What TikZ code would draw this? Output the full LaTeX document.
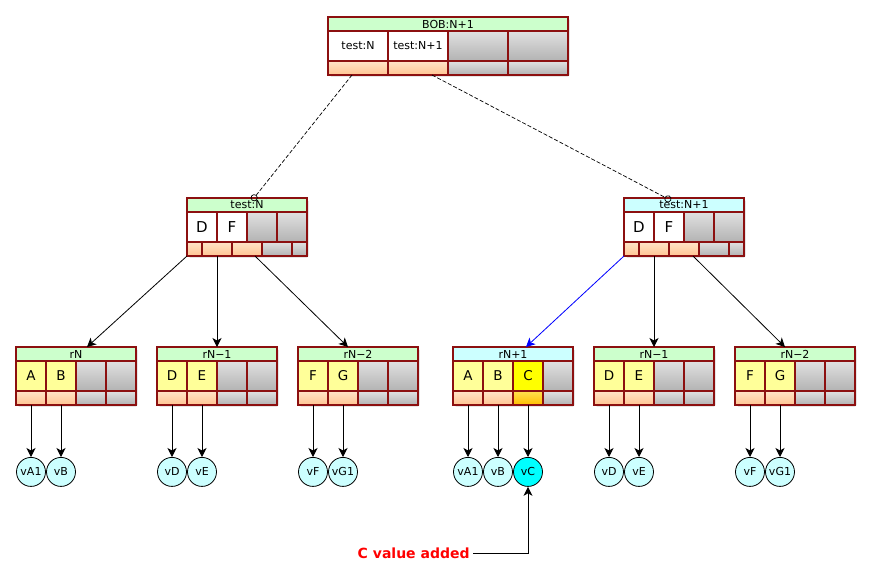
\documentclass[tikz,border=0pt]{standalone}
\usepackage{fontspec}
\setmainfont{DejaVu Sans}
\usetikzlibrary{arrows.meta,positioning,calc,shadows}

\definecolor{recred}{RGB}{140,16,16}
\definecolor{hdrgreen}{RGB}{204,255,204}
\definecolor{hdrcyan}{RGB}{204,255,255}
\definecolor{keyyellow}{RGB}{255,255,153}
\definecolor{newyellow}{RGB}{255,255,0}
\definecolor{ptrlight}{RGB}{255,228,200}
\definecolor{ptrorange}{RGB}{255,196,145}
\definecolor{newptrlight}{RGB}{255,225,80}
\definecolor{newptrdark}{RGB}{255,190,0}
\definecolor{valcyan}{RGB}{204,255,255}
\definecolor{newcyan}{RGB}{0,255,255}

\tikzset{
  reccell/.style={rectangle, draw=recred, line width=1.2pt, inner sep=0pt, outer sep=0pt, anchor=north west},
  recframe/.style={reccell, line width=1.6pt, rounded corners=1.5pt, fill=white, minimum height=58pt,
                   drop shadow={shadow xshift=1.5pt, shadow yshift=-1.5pt, opacity=0.3}},
  hdr/.style={reccell, minimum height=14pt, fill=hdrgreen, font=\fontsize{11}{11}\selectfont},
  hdrnew/.style={hdr, fill=hdrcyan},
  keybox/.style={reccell, minimum height=30pt},
  topkey/.style={keybox, fill=white, font=\fontsize{11}{11}\selectfont},
  wkey/.style={keybox, fill=white, font=\fontsize{15}{15}\selectfont},
  keycell/.style={keybox, fill=keyyellow, font=\fontsize{13.5}{13.5}\selectfont},
  newkey/.style={keycell, fill=newyellow},
  emptycell/.style={keybox, top color=black!12, bottom color=black!30},
  ptrcell/.style={reccell, minimum height=14pt, top color=ptrlight, bottom color=ptrorange},
  newptr/.style={ptrcell, top color=newptrlight, bottom color=newptrdark},
  nullcell/.style={reccell, minimum height=14pt, top color=black!12, bottom color=black!30},
  valnode/.style={circle, draw=black, line width=0.8pt, fill=valcyan, minimum size=29pt, inner sep=0pt,
                  font=\fontsize{11}{11}\selectfont},
  newval/.style={valnode, fill=newcyan},
  ptr/.style={-{Stealth[length=9pt, width=9pt, inset=2.5pt]}, line width=0.8pt},
  link/.style={dash pattern=on 4pt off 2pt, line width=0.7pt, -{Circle[open, length=7pt, width=7pt]}},
  note/.style={text=red, inner sep=3pt, font=\fontsize{14}{14}\selectfont\bfseries}
}

% record: name, corner, cell width, header style, header text, key cells, pointer cells
\newcommand{\record}[7]{%
  \begin{scope}[shift={#2}]
    \node[recframe, minimum width=4*#3pt] (#1) at (0,0) {};
    \node[#4, minimum width=4*#3pt] (#1-h) at (0,0) {#5};
    \foreach \txt/\sty [count=\n from 0] in {#6}
      \node[\sty, minimum width=#3pt] (#1-k\n) at (\n*#3,14) {\txt};
    \foreach \x/\cw/\sty [count=\n] in {#7}
      \node[\sty, minimum width=\cw*1pt] (#1-p\n) at (\x,44) {};
  \end{scope}}

\begin{document}
\begin{tikzpicture}[x=1pt, y=-1pt, line width=0.8pt, black]
    \useasboundingbox (0,0) rectangle (871,584);

    %Nodes
    \record{bob}{(328,17)}{60}{hdr}{BOB:N+1}
      {test:N/topkey, test:N+1/topkey, /emptycell, /emptycell}
      {0/60/ptrcell, 60/60/ptrcell, 120/60/nullcell, 180/60/nullcell}

    \record{tN}{(187,198)}{30}{hdr}{test:N}
      {D/wkey, F/wkey, /emptycell, /emptycell}
      {0/15/ptrcell, 15/30/ptrcell, 45/30/ptrcell, 75/30/nullcell, 105/15/nullcell}
    \record{tNp}{(624,198)}{30}{hdrnew}{test:N+1}
      {D/wkey, F/wkey, /emptycell, /emptycell}
      {0/15/ptrcell, 15/30/ptrcell, 45/30/ptrcell, 75/30/nullcell, 105/15/nullcell}

    \record{rN}{(16,347)}{30}{hdr}{rN}
      {A/keycell, B/keycell, /emptycell, /emptycell}
      {0/30/ptrcell, 30/30/ptrcell, 60/30/nullcell, 90/30/nullcell}
    \record{rNm1}{(157,347)}{30}{hdr}{rN−1}
      {D/keycell, E/keycell, /emptycell, /emptycell}
      {0/30/ptrcell, 30/30/ptrcell, 60/30/nullcell, 90/30/nullcell}
    \record{rNm2}{(298,347)}{30}{hdr}{rN−2}
      {F/keycell, G/keycell, /emptycell, /emptycell}
      {0/30/ptrcell, 30/30/ptrcell, 60/30/nullcell, 90/30/nullcell}
    \record{rNp1}{(453,347)}{30}{hdrnew}{rN+1}
      {A/keycell, B/keycell, C/newkey, /emptycell}
      {0/30/ptrcell, 30/30/ptrcell, 60/30/newptr, 90/30/nullcell}
    \record{rNm1b}{(594,347)}{30}{hdr}{rN−1}
      {D/keycell, E/keycell, /emptycell, /emptycell}
      {0/30/ptrcell, 30/30/ptrcell, 60/30/nullcell, 90/30/nullcell}
    \record{rNm2b}{(735,347)}{30}{hdr}{rN−2}
      {F/keycell, G/keycell, /emptycell, /emptycell}
      {0/30/ptrcell, 30/30/ptrcell, 60/30/nullcell, 90/30/nullcell}

    % Values
    \foreach \r/\a/\b in {rN/vA1/vB, rNm1/vD/vE, rNm2/vF/vG1, rNp1/vA1/vB, rNm1b/vD/vE, rNm2b/vF/vG1} {
      \node[valnode, below=52pt of \r-p1] (\r-\a) {\a};
      \node[valnode, below=52pt of \r-p2] (\r-\b) {\b};
      \draw[ptr] (\r-p1.south) -- (\r-\a);
      \draw[ptr] (\r-p2.south) -- (\r-\b);
    }
    \node[newval, below=52pt of rNp1-p3] (rNp1-vC) {vC};
    \draw[ptr] (rNp1-p3.south) -- (rNp1-vC);

    \node[note, anchor=east] (note) at (473,553) {C value added};

    %Lines
    \draw[link] ($(bob.south west)+(24,0)$)  -- ($(tN.north west)+(65,2.5)$);
    \draw[link] ($(bob.south west)+(104,0)$) -- ($(tNp.north west)+(47,2.5)$);

    \draw[ptr] (tN.south west)              -- ($(rN.north west)+(71,0)$);
    \draw[ptr] (tN-p2.south)                -- (rNm1.north);
    \draw[ptr] ($(tN.south west)+(68,0)$)   -- ($(rNm2.north west)+(50,0)$);

    \draw[ptr, blue] (tNp.south west)       -- ($(rNp1.north west)+(73,0)$);
    \draw[ptr] (tNp-p2.south)               -- (rNm1b.north);
    \draw[ptr] ($(tNp.south west)+(69,0)$)  -- ($(rNm2b.north west)+(50,0)$);

    \draw[ptr] (note) -| (rNp1-vC);
\end{tikzpicture}
\end{document}
